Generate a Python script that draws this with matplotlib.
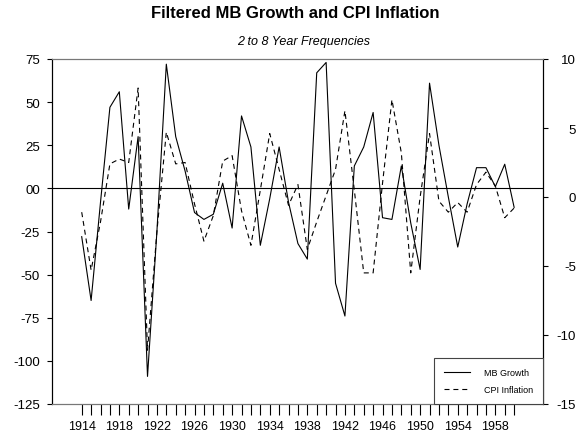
import matplotlib
matplotlib.use("Agg")
import matplotlib.pyplot as plt

plt.rcParams['font.family'] = ['Liberation Sans Narrow', 'Liberation Sans', 'DejaVu Sans']

years = list(range(1914, 1961))

mb_growth = [-28, -65, -8, 47, 56, -12, 30, -109, -25, 72,
             30, 10, -14, -18, -15, 3, -23, 42, 24, -33,
             -6, 24, -8, -32, -41, 67, 73, -55, -74, 13,
             24, 44, -17, -18, 13, -20, -47, 61, 25, -5,
             -34, -9, 12, 12, 1, 14, -11]

cpi_inflation = [-1.1, -5.3, -1.8, 2.4, 2.75, 2.5, 7.9, -11.1, -2.5, 4.7,
                 2.4, 2.5, -0.5, -3.2, -1.35, 2.6, 3.0, -1.0, -3.5, 0.5,
                 4.6, 2.0, -0.6, 0.9, -3.8, -1.8, 0.1, 2.0, 6.25, 0.5,
                 -5.5, -5.5, 1.0, 7.05, 3.2, -5.5, 0.0, 4.6, -0.3, -1.1,
                 -0.4, -1.1, 0.9, 1.8, 0.8, -1.5, -0.8]

left_ticks = [-125, -100, -75, -50, -25, 0, 25, 50, 75]
left_labels = ['-125', '-100', '-75', '-50', '-25', '00', '25', '50', '75']
right_ticks = [-15, -10, -5, 0, 5, 10]
right_labels = ['-15', '-10', '-5', '0', '5', '10']

fig = plt.figure(figsize=(5.83, 4.39), dpi=100)
ax = fig.add_axes([52 / 583, 34 / 439, 491 / 583, 345 / 439])
ax2 = ax.twinx()

mb_line, = ax.plot(years, mb_growth, color='black', lw=0.8, label='MB Growth')
cpi_line, = ax2.plot(years, cpi_inflation, color='black', lw=0.8,
                     dashes=(4.5, 3.5), label='CPI Inflation')
ax.axhline(0, color='black', lw=0.8)

ax.set_xlim(1910.84, 1963.07)
ax.set_ylim(-125, 75)
ax2.set_ylim(-15, 10)

ax.set_xticks(years)
ax.set_xticklabels([str(y) if (y - 1914) % 4 == 0 and y <= 1958 else '' for y in years])
ax.set_yticks(left_ticks)
ax.set_yticklabels(left_labels)
ax2.set_yticks(right_ticks)
ax2.set_yticklabels(right_labels)
ax2.tick_params(axis='x', which='both', bottom=False, top=False,
                labelbottom=False, labeltop=False)

ax.tick_params(axis='x', direction='out', length=8, width=0.8, pad=3.5, labelsize=9)
ax.tick_params(axis='y', direction='out', length=3.6, width=0.8, pad=5, labelsize=9.5)
ax2.tick_params(axis='y', direction='out', length=3.6, width=0.8, pad=20, labelsize=9.5)
for lbl in ax2.get_yticklabels():
    lbl.set_horizontalalignment('right')

for a in (ax, ax2):
    a.spines['top'].set_color('#777777')
    a.spines['bottom'].set_color('#777777')
    a.spines['left'].set_color('black')
    a.spines['right'].set_color('black')
    for s in a.spines.values():
        s.set_linewidth(0.8)

leg = ax2.legend(handles=[mb_line, cpi_line], loc='lower right', borderaxespad=0,
                 fontsize=6.5, fancybox=False, framealpha=1, edgecolor='#444444',
                 handlelength=2.8, handletextpad=1.6, labelspacing=0.9,
                 borderpad=1.1)
leg.get_frame().set_linewidth(0.8)

fig.text(0.506, 1 - 13 / 439, 'Filtered MB Growth and CPI Inflation',
         ha='center', va='center', fontsize=12, fontweight='bold')
fig.text(0.52, 1 - 42 / 439, '2 to 8 Year Frequencies',
         ha='center', va='center', fontsize=9, fontstyle='italic')

fig.savefig('out.png', dpi=100)
